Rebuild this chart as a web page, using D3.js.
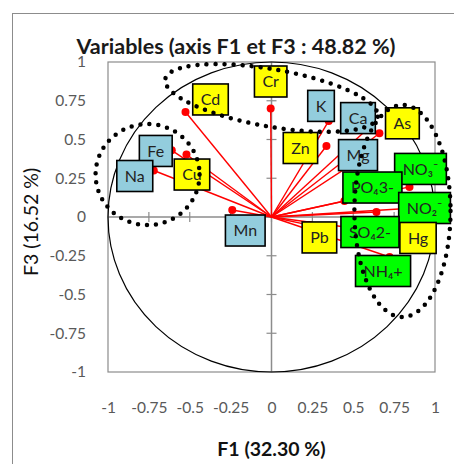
<!DOCTYPE html>
<html>
<head>
<meta charset="utf-8">
<script src="https://cdn.jsdelivr.net/npm/d3@7"></script>
<style>
  html, body { margin: 0; padding: 0; background: #fff; }
  svg { display: block; font-family: Lato, "Open Sans", sans-serif; }
</style>
</head>
<body>
<svg id="chart" width="454" height="464"></svg>
<script>
// Variable loadings on factors F1 and F3
const variables = ["Cr", "Cd", "Fe", "Na", "Cu", "Mn", "K", "Zn", "Ca", "As", "Mg", "NO3", "PO4", "NO2", "SO4", "Pb", "Hg", "NH4"];
const labels    = ["Cr", "Cd", "Fe", "Na", "Cu", "Mn", "K", "Zn", "Ca", "As", "Mg", "NO₃⁻", "PO₄3-", "NO₂⁻", "SO₄2-", "Pb", "Hg", "NH₄+"];
const groups    = ["metal", "metal", "cation", "cation", "metal", "cation", "cation", "metal", "cation", "metal", "cation", "ion", "ion", "ion", "ion", "metal", "metal", "ion"];
const f1Values  = [-0.005, -0.526, -0.61, -0.72, -0.52, -0.24, 0.35, 0.336, 0.60, 0.66, 0.55, 0.844, 0.446, 0.875, 0.642, 0.232, 0.813, 0.722];
const f3Values  = [0.70, 0.677, 0.43, 0.30, 0.403, 0.045, 0.62, 0.458, 0.58, 0.54, 0.38, 0.194, 0.103, 0.058, 0.032, -0.052, -0.116, -0.258];

const tickValues = [-1, -0.75, -0.5, -0.25, 0, 0.25, 0.5, 0.75, 1];
const tickLabels = ["-1", "-0.75", "-0.5", "-0.25", "0", "0.25", "0.5", "0.75", "1"];

// Variable groupings circled on the plot: centre (F1, F3), radii in axis units, tilt in degrees
const clusterCx = [-0.758, 0.0, 0.801];
const clusterCy = [0.274, 0.768, 0.039];
const clusterRx = [0.318, 0.66, 0.294];
const clusterRy = [0.326, 0.185, 0.684];
const clusterTilt = [0, 10, 0];

// Placement of each label box relative to its point (px)
const labelOffset = {
  Cr: [0, -27], Cd: [25, -12.6], Fe: [-16, 0.6], Na: [-19, 5.5], Cu: [5.5, 20],
  Mn: [13, 20.5], K: [-7.7, -15], Zn: [-26, 2], Ca: [-11.6, -9], As: [23, -10],
  Mg: [-3.4, -3], NO3: [11, -18], PO4: [28, -13.5], NO2: [10, 0], SO4: [-6.5, 20],
  Pb: [10, 12.4], Hg: [13.6, 3], NH4: [-6.5, 14]
};
const groupFill = { metal: "#FFFF00", cation: "#93CDDD", ion: "#00FF00" };

const svg = d3.select("#chart");
const plot = { left: 108, right: 435, top: 62, bottom: 372 };

const x = d3.scaleLinear().domain([-1, 1]).range([plot.left, plot.right]);
const y = d3.scaleLinear().domain([-1, 1]).range([plot.bottom, plot.top]);

// Chart frame
svg.append("rect")
  .attr("x", 12.5).attr("y", 13.5).attr("width", 470).attr("height", 480)
  .attr("fill", "none").attr("stroke", "#8c8c8c").attr("stroke-width", 1);

// Title
svg.append("text")
  .attr("x", 236).attr("y", 54)
  .attr("text-anchor", "middle")
  .attr("font-size", 21.5).attr("font-weight", "bold").attr("fill", "#1a1a1a")
  .text("Variables (axis F1 et F3 : 48.82 %)");

// Plot area border
svg.append("rect")
  .attr("x", plot.left).attr("y", plot.top)
  .attr("width", plot.right - plot.left).attr("height", plot.bottom - plot.top)
  .attr("fill", "#fff").attr("stroke", "#8c8c8c").attr("stroke-width", 1.2);

// Tick labels on the outside of the plot area
const yAxis = d3.axisLeft(y).tickValues(tickValues).tickSize(0).tickPadding(22)
  .tickFormat((d, i) => tickLabels[i]);
const xAxis = d3.axisBottom(x).tickValues(tickValues).tickSize(0).tickPadding(30)
  .tickFormat((d, i) => tickLabels[i]);

const gy = svg.append("g").attr("transform", `translate(${plot.left},0)`).call(yAxis);
const gx = svg.append("g").attr("transform", `translate(0,${plot.bottom})`).call(xAxis);
[gx, gy].forEach(g => {
  g.select(".domain").remove();
  g.selectAll("text").attr("font-size", 15.5).attr("fill", "#595959")
    .attr("font-family", "Lato, sans-serif");
});

// Axis lines through the origin with cross ticks
const axisColor = "#8c8c8c";
svg.append("line")
  .attr("x1", x(0)).attr("x2", x(0)).attr("y1", y(-1)).attr("y2", y(1))
  .attr("stroke", axisColor).attr("stroke-width", 1.5);
svg.append("line")
  .attr("x1", x(-1)).attr("x2", x(1)).attr("y1", y(0)).attr("y2", y(0))
  .attr("stroke", axisColor).attr("stroke-width", 1.5);
svg.append("g").selectAll("line").data(tickValues.filter(v => Math.abs(v) < 1)).join("line")
  .attr("x1", x(0) - 5).attr("x2", x(0) + 5)
  .attr("y1", d => y(d)).attr("y2", d => y(d))
  .attr("stroke", axisColor).attr("stroke-width", 1.2);
svg.append("g").selectAll("line").data(tickValues.filter(v => Math.abs(v) < 1)).join("line")
  .attr("x1", d => x(d)).attr("x2", d => x(d))
  .attr("y1", y(0) - 5).attr("y2", y(0) + 5)
  .attr("stroke", axisColor).attr("stroke-width", 1.2);

// Axis titles
svg.append("text")
  .attr("x", x(0)).attr("y", 456)
  .attr("text-anchor", "middle")
  .attr("font-size", 19.5).attr("font-weight", "bold").attr("fill", "#111")
  .text("F1 (32.30 %)");
svg.append("text")
  .attr("transform", `translate(38,${y(0) + 5}) rotate(-90)`)
  .attr("text-anchor", "middle")
  .attr("font-size", 19.5).attr("fill", "#111")
  .text("F3 (16.52 %)");

const points = variables.map((v, i) => ({
  name: v, label: labels[i], group: groups[i], f1: f1Values[i], f3: f3Values[i]
}));

// Loading vectors from the origin
svg.append("g").selectAll("line").data(points).join("line")
  .attr("x1", x(0)).attr("y1", y(0))
  .attr("x2", d => x(d.f1)).attr("y2", d => y(d.f3))
  .attr("stroke", "#ff0000").attr("stroke-width", 1.4);
svg.append("g").selectAll("circle").data(points).join("circle")
  .attr("cx", d => x(d.f1)).attr("cy", d => y(d.f3)).attr("r", 4)
  .attr("fill", "#ff0000");

// Correlation circle (radius 1)
svg.append("ellipse")
  .attr("cx", x(0)).attr("cy", y(0))
  .attr("rx", x(1) - x(0)).attr("ry", y(0) - y(1))
  .attr("fill", "none").attr("stroke", "#000").attr("stroke-width", 1.2);

// Label boxes
const labelG = svg.append("g").selectAll("g").data(points).join("g")
  .attr("transform", d => {
    const o = labelOffset[d.name];
    return `translate(${x(d.f1) + o[0]},${y(d.f3) + o[1]})`;
  });
const rects = labelG.append("rect")
  .attr("fill", d => groupFill[d.group])
  .attr("stroke", "#000").attr("stroke-width", 1.6);
const texts = labelG.append("text")
  .attr("text-anchor", "middle").attr("dy", "0.35em")
  .attr("font-size", 16).attr("fill", "#222")
  .text(d => d.label);
texts.each(function (d) { d.tw = this.getComputedTextLength(); });
rects
  .attr("width", d => Math.max(26, d.tw + 16)).attr("height", 31)
  .attr("x", d => -Math.max(26, d.tw + 16) / 2).attr("y", -15.5);

// Dotted outlines around variable groupings
svg.append("g").selectAll("ellipse").data(clusterCx.map((c, i) => i)).join("ellipse")
  .attr("cx", i => x(clusterCx[i])).attr("cy", i => y(clusterCy[i]))
  .attr("rx", i => x(clusterRx[i]) - x(0)).attr("ry", i => y(0) - y(clusterRy[i]))
  .attr("transform", i => `rotate(${clusterTilt[i]},${x(clusterCx[i])},${y(clusterCy[i])})`)
  .attr("fill", "none").attr("stroke", "#000").attr("stroke-width", 4.5)
  .attr("stroke-linecap", "round").attr("stroke-dasharray", "0 9");
</script>
</body>
</html>
